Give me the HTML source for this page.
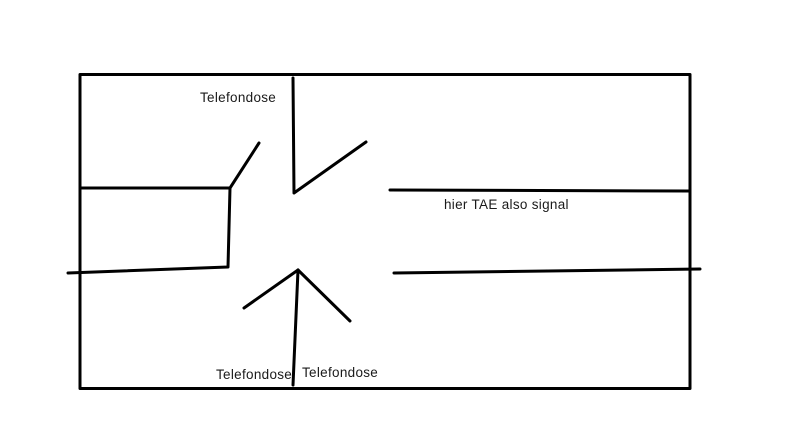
<!DOCTYPE html>
<html><head><style>
html,body{margin:0;padding:0;background:#fff;width:800px;height:444px;overflow:hidden}
svg{display:block}
text{font-family:"Liberation Sans",sans-serif;font-size:13.5px;letter-spacing:0.3px;fill:#1a1a1a}
</style></head><body>
<svg width="800" height="444" viewBox="0 0 800 444">
<g stroke="#000" stroke-width="3" fill="none" stroke-linecap="round" stroke-linejoin="round">
<rect x="80" y="74.5" width="610" height="314"/>
<polyline points="293,78 294,193 366,142"/>
<line x1="230" y1="188" x2="259" y2="143"/>
<polyline points="80,188 230,188 228,267 68,273"/>
<line x1="390" y1="190" x2="690" y2="191"/>
<line x1="394" y1="273" x2="700" y2="269"/>
<line x1="298" y1="270" x2="293" y2="385"/>
<line x1="298" y1="270" x2="244" y2="308"/>
<line x1="298" y1="270" x2="350" y2="321"/>
</g>
<text x="200" y="102">Telefondose</text>
<text x="444" y="209">hier TAE also signal</text>
<text x="216" y="379">Telefondose</text>
<text x="302" y="377">Telefondose</text>
</svg>
</body></html>
